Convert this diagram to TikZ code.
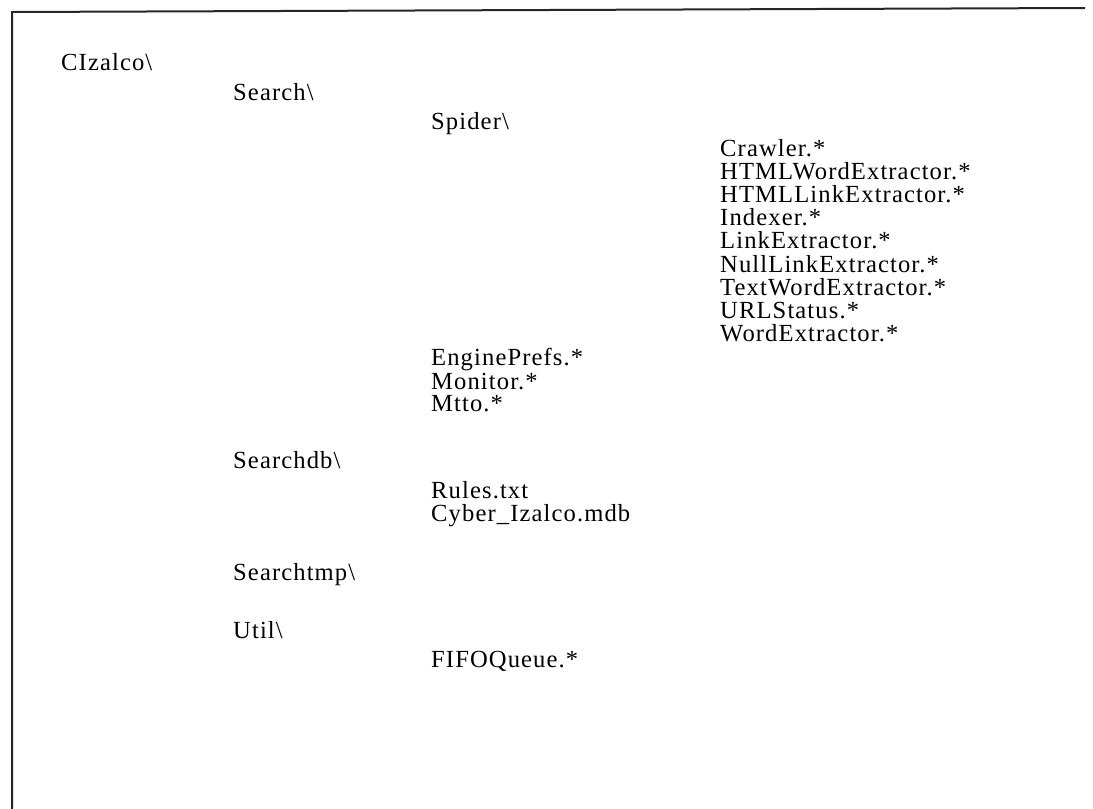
\documentclass[tikz,border=0pt]{standalone}
\usepackage{fontspec}
\setmainfont{Liberation Serif}[LetterSpace=4.5]
\begin{document}
\begin{tikzpicture}[x=1pt, y=-1pt,
    entry/.style={anchor=base west, inner sep=0pt, font=\fontsize{24.6}{28}\selectfont},
    frame/.style={line width=2pt, draw=black!85}]
  % page extent
  \useasboundingbox (0,0) rectangle (1093,809);
  % frame: top rule and left rule only
  \coordinate (tl) at (12,12);
  \coordinate (tr) at (1085,8);
  \coordinate (bl) at (12,809);
  \draw[frame] (bl) -- (tl) -- (tr);
  % directory listing (baselines)
  \node[entry] (root)     at (61, 70)  {CIzalco\textbackslash};
  \node[entry] (search)   at (233,100) {Search\textbackslash};
  \node[entry] (spider)   at (431,129) {Spider\textbackslash};
  \node[entry] (crawler)  at (720,156) {Crawler.*};
  \node[entry] (htmlword) at (720,179) {HTMLWordExtractor.*};
  \node[entry] (htmllink) at (720,202) {HTMLLinkExtractor.*};
  \node[entry] (indexer)  at (720,225) {Indexer.*};
  \node[entry] (linkext)  at (720,248) {LinkExtractor.*};
  \node[entry] (nulllink) at (720,272) {NullLinkExtractor.*};
  \node[entry] (textword) at (720,295) {TextWordExtractor.*};
  \node[entry] (urlstat)  at (720,318) {URLStatus.*};
  \node[entry] (wordext)  at (720,341) {WordExtractor.*};
  \node[entry] (engine)   at (431,365) {EnginePrefs.*};
  \node[entry] (monitor)  at (431,389) {Monitor.*};
  \node[entry] (mtto)     at (431,411) {Mtto.*};
  \node[entry] (searchdb) at (233,468) {Searchdb\textbackslash};
  \node[entry] (rules)    at (431,498) {Rules.txt};
  \node[entry] (cyber)    at (431,521) {Cyber\_Izalco.mdb};
  \node[entry] (stmp)     at (233,580) {Searchtmp\textbackslash};
  \node[entry] (util)     at (233,638) {Util\textbackslash};
  \node[entry] (fifo)     at (431,667) {FIFOQueue.*};
\end{tikzpicture}
\end{document}
